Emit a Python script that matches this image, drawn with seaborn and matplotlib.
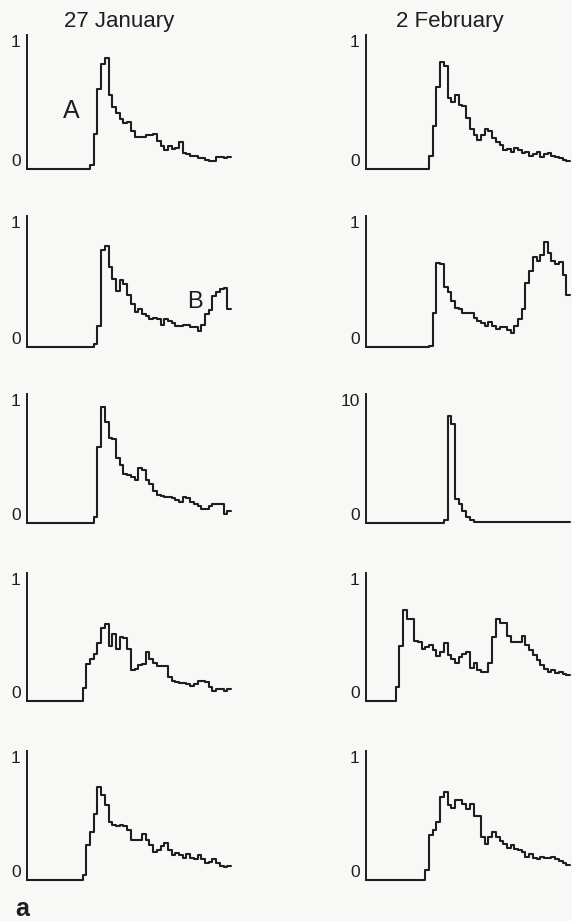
import numpy as np
import pandas as pd
import matplotlib
matplotlib.use("Agg")
import matplotlib.pyplot as plt
import seaborn as sns

sns.set_theme(style="white")
plt.rcParams['font.family'] = ['Liberation Sans', 'DejaVu Sans']

titles = ["27 January", "2 February"]

# 55 bins per trace (values per bin)
jan_1 = [0]*17 + [0.03, 0.26, 0.60, 0.78, 0.83, 0.55, 0.46, 0.42, 0.37, 0.34, 0.35, 0.28, 0.24, 0.24,
                  0.24, 0.25, 0.25, 0.26, 0.21, 0.17, 0.14, 0.17, 0.15, 0.16, 0.20, 0.12, 0.11, 0.10,
                  0.10, 0.08, 0.08, 0.07, 0.06, 0.06, 0.09, 0.09, 0.08, 0.09]
feb_1 = [0]*17 + [0.10, 0.32, 0.61, 0.80, 0.77, 0.53, 0.50, 0.55, 0.48, 0.47, 0.38, 0.30, 0.25, 0.22,
                  0.25, 0.30, 0.28, 0.23, 0.20, 0.18, 0.14, 0.15, 0.13, 0.16, 0.14, 0.12, 0.13, 0.10,
                  0.11, 0.13, 0.09, 0.11, 0.12, 0.10, 0.09, 0.08, 0.07, 0.06]
jan_2 = [0]*18 + [0.02, 0.16, 0.74, 0.77, 0.61, 0.52, 0.43, 0.51, 0.48, 0.40, 0.33, 0.27, 0.29,
                  0.25, 0.24, 0.21, 0.22, 0.21, 0.17, 0.21, 0.20, 0.18, 0.16, 0.16, 0.17, 0.17, 0.15,
                  0.15, 0.12, 0.17, 0.25, 0.28, 0.39, 0.42, 0.44, 0.45, 0.29]
feb_2 = [0]*17 + [0.01, 0.26, 0.64, 0.63, 0.46, 0.42, 0.35, 0.30, 0.29, 0.26, 0.26, 0.26, 0.22,
                  0.20, 0.18, 0.16, 0.19, 0.16, 0.14, 0.15, 0.15, 0.13, 0.11, 0.16, 0.21, 0.29, 0.49,
                  0.58, 0.69, 0.66, 0.70, 0.80, 0.72, 0.66, 0.63, 0.65, 0.55, 0.40]
jan_3 = [0]*18 + [0.05, 0.59, 0.90, 0.78, 0.66, 0.65, 0.50, 0.45, 0.38, 0.37, 0.36, 0.33, 0.43,
                  0.41, 0.33, 0.30, 0.25, 0.22, 0.21, 0.20, 0.20, 0.19, 0.18, 0.16, 0.20, 0.19, 0.16,
                  0.15, 0.13, 0.11, 0.11, 0.13, 0.15, 0.15, 0.15, 0.07, 0.09]
feb_3 = [0]*21 + [0.26, 8.3, 7.7, 1.86, 1.47, 0.9, 0.5, 0.2, 0.1] + [0.05]*25
jan_4 = [0]*15 + [0.10, 0.29, 0.33, 0.37, 0.45, 0.57, 0.60, 0.43, 0.52, 0.41, 0.50, 0.49, 0.41,
                  0.24, 0.25, 0.28, 0.29, 0.38, 0.33, 0.30, 0.27, 0.27, 0.27, 0.19, 0.16, 0.15, 0.14,
                  0.14, 0.13, 0.12, 0.13, 0.16, 0.16, 0.15, 0.11, 0.08, 0.09, 0.09, 0.08, 0.09]
feb_4 = [0]*8 + [0.11, 0.43, 0.71, 0.64, 0.64, 0.47, 0.46, 0.41, 0.42, 0.44, 0.40, 0.35, 0.38,
                 0.45, 0.36, 0.33, 0.30, 0.34, 0.37, 0.38, 0.26, 0.30, 0.24, 0.23, 0.23, 0.30, 0.50,
                 0.64, 0.61, 0.61, 0.51, 0.46, 0.46, 0.46, 0.51, 0.44, 0.40, 0.36, 0.32, 0.28, 0.25,
                 0.23, 0.24, 0.22, 0.23, 0.21, 0.20]
jan_5 = [0]*15 + [0.04, 0.27, 0.37, 0.51, 0.72, 0.66, 0.58, 0.45, 0.43, 0.42, 0.43, 0.42, 0.39,
                  0.31, 0.31, 0.31, 0.36, 0.31, 0.27, 0.22, 0.23, 0.26, 0.29, 0.23, 0.19, 0.21, 0.19,
                  0.17, 0.20, 0.17, 0.16, 0.19, 0.16, 0.13, 0.14, 0.16, 0.13, 0.11, 0.10, 0.11]
feb_5 = [0]*16 + [0.08, 0.35, 0.39, 0.45, 0.64, 0.68, 0.58, 0.56, 0.62, 0.62, 0.59, 0.55, 0.59,
                  0.50, 0.50, 0.33, 0.28, 0.33, 0.37, 0.33, 0.30, 0.28, 0.25, 0.27, 0.24, 0.23, 0.22,
                  0.18, 0.20, 0.17, 0.16, 0.18, 0.17, 0.17, 0.18, 0.16, 0.15, 0.13, 0.12]

left_series = [jan_1, jan_2, jan_3, jan_4, jan_5]
right_series = [feb_1, feb_2, feb_3, feb_4, feb_5]
left_ymax = [1, 1, 1, 1, 1]
right_ymax = [1, 1, 10, 1, 1]

W, H = 572, 921
fig = plt.figure(figsize=(W/100, H/100), dpi=100)
bg = '#f8f8f6'
fig.patch.set_facecolor(bg)

rows = [(35, 169), (216, 347), (394, 523), (573, 701), (751, 880)]
cols = [27, 366]
axw = 204
ink = '#1e1e1e'

def draw(ax, vals, ymax):
    n = len(vals)
    df = pd.DataFrame({'x': np.arange(n + 1), 'y': list(vals) + [vals[-1]]})
    sns.lineplot(data=df, x='x', y='y', drawstyle='steps-post', color=ink, lw=1.5,
                 estimator=None, ax=ax, clip_on=False)
    ax.set_xlim(0, n)
    ax.set_ylim(0, ymax)
    ax.set_facecolor(bg)
    for s in ['top', 'right', 'bottom']:
        ax.spines[s].set_visible(False)
    ax.spines['left'].set_color(ink)
    ax.spines['left'].set_linewidth(1.4)
    ax.set_xticks([])
    ax.set_yticks([0, ymax])
    ax.set_yticklabels(['0', str(ymax)])
    ax.tick_params(axis='y', direction='in', length=2.5, width=1.2, color=ink,
                   pad=4.5, labelsize=12.5, labelcolor=ink)
    labs = ax.get_yticklabels()
    labs[0].set_va('bottom')
    labs[1].set_va('top')
    ax.set_xlabel('')
    ax.set_ylabel('')

axes = {}
for c, (series, ymaxes) in enumerate([(left_series, left_ymax), (right_series, right_ymax)]):
    for r, (top, bot) in enumerate(rows):
        ax = fig.add_axes([cols[c]/W, 1 - bot/H, axw/W, (bot - top)/H])
        draw(ax, series[r], ymaxes[r])
        axes[(r, c)] = ax

fig.text(119/W, 1 - 27/H, titles[0], ha='center', va='baseline', fontsize=16, color=ink)
fig.text(450/W, 1 - 27/H, titles[1], ha='center', va='baseline', fontsize=16, color=ink)

axes[(0, 0)].text(11.9, 0.43, 'A', ha='center', va='center', fontsize=18, color=ink)
axes[(1, 0)].text(45.2, 0.34, 'B', ha='center', va='center', fontsize=17, color=ink)
fig.text(15/W, 1 - 916/H, 'a', ha='left', va='baseline', fontsize=18, fontweight='bold', color=ink)

fig.savefig('out.png', dpi=100, facecolor=bg)
